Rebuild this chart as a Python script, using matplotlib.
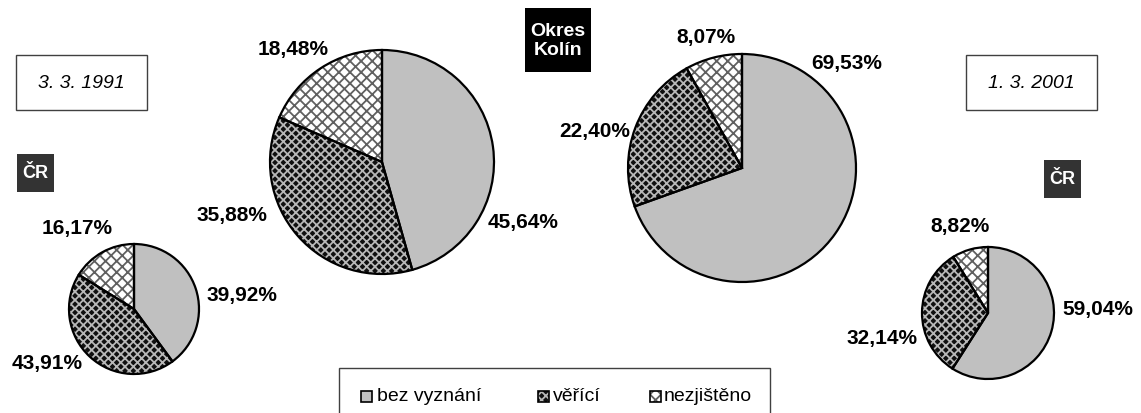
import matplotlib
matplotlib.use('Agg')
import matplotlib.pyplot as plt
from matplotlib.patches import Rectangle, Wedge

plt.rcParams['font.family'] = ['Liberation Sans', 'DejaVu Sans']
plt.rcParams['hatch.linewidth'] = 1.3

W, H = 1141, 414

# data
categories = ['bez vyznání', 'věřící', 'nezjištěno']
cr_1991 = [39.92, 43.91, 16.17]
kolin_1991 = [45.64, 35.88, 18.48]
kolin_2001 = [69.53, 22.40, 8.07]
cr_2001 = [59.04, 32.14, 8.82]
date_labels = ['3. 3. 1991', '1. 3. 2001']

# styles per category: face, hatch, hatch colour
styles = [('#c0c0c0', None, '#c0c0c0'),
          ('#101010', 'xxxx', '#b8b8b8'),
          ('white', 'xxx', '#606060')]

fig = plt.figure(figsize=(W / 100, H / 100), dpi=100)
ax = fig.add_axes([0, 0, 1, 1])


def py(y):
    return H - y


def draw_pie(vals, cx, cy, r, label_pos):
    wedges, _ = ax.pie(vals, center=(cx, py(cy)), radius=r, startangle=90,
                       counterclock=False, frame=True)
    for w, (fc, hatch, hc) in zip(wedges, styles):
        w.set_facecolor(fc)
        w.set_hatch(hatch)
        w.set_edgecolor(hc)
        w.set_linewidth(0)
        outline = Wedge(w.center, w.r, w.theta1, w.theta2, fill=False,
                        edgecolor='black', linewidth=1.6)
        ax.add_patch(outline)
    for v, (lx, ly) in zip(vals, label_pos):
        ax.text(lx, py(ly), f'{v:.2f}%'.replace('.', ','), ha='center', va='center',
                fontsize=15, fontweight='bold')


draw_pie(cr_1991, 134, 310, 65, [(242, 296), (47, 364), (77, 229)])
draw_pie(kolin_1991, 382, 163, 112, [(523, 223), (232, 216), (293, 50)])
draw_pie(kolin_2001, 742, 169, 114, [(847, 63), (595, 131), (706, 37)])
draw_pie(cr_2001, 988, 314, 66, [(1098, 310), (882, 339), (960, 227)])

# date boxes
for (x0, x1), txt in zip([(16, 147), (966, 1097)], date_labels):
    ax.add_patch(Rectangle((x0, py(111)), x1 - x0, 55, facecolor='white',
                           edgecolor='#404040', linewidth=1))
    ax.text((x0 + x1) / 2, py(84), txt, ha='center', va='center',
            fontsize=14, style='italic')

# dark name boxes
for (x0, y0, w, h, c, txt, fs) in [(17, 155, 37, 38, '#333333', 'ČR', 13),
                                   (1044, 161, 37, 38, '#333333', 'ČR', 13),
                                   (525, 9, 66, 64, 'black', 'Okres\nKolín', 14)]:
    ax.add_patch(Rectangle((x0, py(y0 + h)), w, h, facecolor=c, edgecolor='none'))
    ax.text(x0 + w / 2, py(y0 + h / 2), txt, ha='center', va='center', color='white',
            fontsize=fs, fontweight='bold', linespacing=1.15)

# legend
ax.add_patch(Rectangle((339, py(430)), 431, 61, facecolor='white',
                       edgecolor='#404040', linewidth=1))
for (sx, tx), name, (fc, hatch, hc) in zip([(361, 377), (538, 553), (650, 664)],
                                           categories, styles):
    ax.add_patch(Rectangle((sx, py(403)), 11, 11, facecolor=fc, hatch=hatch,
                           edgecolor=hc, linewidth=0))
    ax.add_patch(Rectangle((sx, py(403)), 11, 11, fill=False, edgecolor='black',
                           linewidth=1.2))
    ax.text(tx, py(397), name, ha='left', va='center', fontsize=14)

ax.set_xlim(0, W)
ax.set_ylim(0, H)
ax.set_aspect('auto')
ax.axis('off')

fig.savefig('out.png', dpi=100)
